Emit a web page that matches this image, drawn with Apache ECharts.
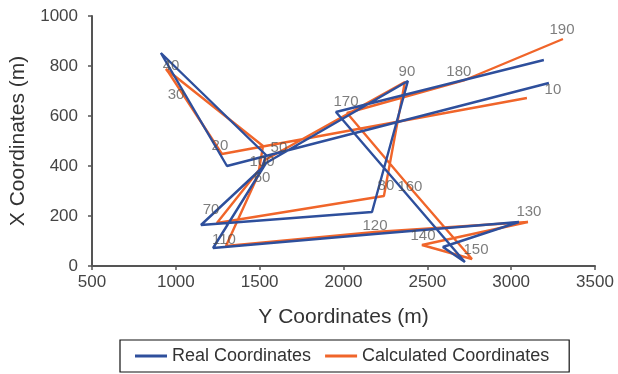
<!DOCTYPE html>
<html>
<head>
<meta charset="utf-8">
<script src="https://cdn.jsdelivr.net/npm/echarts@6/dist/echarts.min.js"></script>
<style>
  html, body { margin: 0; padding: 0; background: #fff; }
  #chart { width: 618px; height: 374px; }
</style>
</head>
<body>
<div id="chart"></div>
<script>
// Point indices (time steps) along the route
const steps = [10, 20, 30, 40, 50, 60, 70, 80, 90, 100, 110, 120, 130, 140, 150, 160, 170, 180, 190];

// Real coordinates: Y (m) and X (m) at each step
const realY = [3225, 1305, 935, 911, 1538, 1514, 1150, 2170, 2384, 1538, 1222, 2188, 3046, 2593, 2724, 2396, 1955, 2700, 3195];
const realX = [732, 400, 824, 852, 444, 392, 164, 216, 740, 412, 72, 128, 176, 76, 16, 272, 616, 741, 824];

// Calculated coordinates: Y (m) and X (m) at each step
const calcY = [3094, 1275, 959, 941, 1520, 1496, 1245, 2241, 2366, 1532, 1299, 2188, 3100, 2468, 2766, 2420, 2021, 2724, 3309];
const calcX = [672, 448, 772, 788, 480, 384, 172, 280, 736, 424, 80, 136, 176, 84, 28, 296, 612, 744, 908];

// Where each step number is written (data coordinates)
const tagY = [3249, 1263, 1001, 971, 1615, 1514, 1210, 2253, 2378, 1514, 1287, 2188, 3106, 2474, 2790, 2396, 2015, 2688, 3303];
const tagX = [704, 480, 684, 800, 472, 352, 224, 320, 776, 416, 104, 160, 216, 120, 64, 316, 656, 776, 944];

const xTicks = { min: 500, max: 3500, interval: 500 };
const yTicks = { min: 0, max: 1000, interval: 200 };

const BLUE = '#2E4F9C';
const ORANGE = '#F0652A';
const FONT = '"Liberation Sans", Arial, sans-serif';

const pairs = (a, b) => a.map((v, i) => [v, b[i]]);

const chart = echarts.init(document.getElementById('chart'), null, { renderer: 'canvas' });

chart.setOption({
  animation: false,
  backgroundColor: '#fff',
  textStyle: { fontFamily: FONT },
  grid: { left: 92, right: 23, top: 16, bottom: 108 },
  legend: {
    data: ['Real Coordinates', 'Calculated Coordinates'],
    bottom: 2,
    left: 120,
    borderColor: '#111',
    borderWidth: 1.2,
    padding: [7, 20, 7, 15],
    itemGap: 14,
    itemWidth: 32,
    itemHeight: 3,
    icon: 'rect',
    textStyle: { fontSize: 18, color: '#333', fontFamily: FONT }
  },
  xAxis: {
    type: 'value',
    min: xTicks.min, max: xTicks.max, interval: xTicks.interval,
    name: 'Y Coordinates (m)',
    nameLocation: 'middle',
    nameGap: 41,
    nameTextStyle: { fontSize: 21, color: '#333', fontFamily: FONT },
    axisLine: { lineStyle: { color: '#555', width: 2 } },
    axisTick: { show: true, inside: false, length: 4, lineStyle: { color: '#555', width: 1.5 } },
    axisLabel: { fontSize: 17, color: '#444', margin: 8, fontFamily: FONT, formatter: v => String(v) },
    splitLine: { show: false }
  },
  yAxis: {
    type: 'value',
    min: yTicks.min, max: yTicks.max, interval: yTicks.interval,
    name: 'X Coordinates (m)',
    nameLocation: 'middle',
    nameGap: 63,
    nameTextStyle: { fontSize: 21, color: '#333', fontFamily: FONT },
    axisLine: { show: true, lineStyle: { color: '#555', width: 2 } },
    axisTick: { show: true, inside: false, length: 4, lineStyle: { color: '#555', width: 1.5 } },
    axisLabel: { fontSize: 17, color: '#444', margin: 14, fontFamily: FONT, formatter: v => String(v) },
    splitLine: { show: false }
  },
  series: [
    {
      name: 'Calculated Coordinates',
      type: 'line',
      data: pairs(calcY, calcX),
      showSymbol: false,
      symbol: 'none',
      color: ORANGE,
      lineStyle: { color: ORANGE, width: 2.4 },
      z: 2
    },
    {
      name: 'Real Coordinates',
      type: 'line',
      data: pairs(realY, realX),
      showSymbol: false,
      symbol: 'none',
      color: BLUE,
      lineStyle: { color: BLUE, width: 2.4 },
      z: 3
    },
    {
      name: 'steps',
      type: 'scatter',
      symbolSize: 0,
      silent: true,
      z: 5,
      data: steps.map((s, i) => ({ value: [tagY[i], tagX[i]], name: String(s) })),
      label: {
        show: true,
        position: 'inside',
        formatter: p => p.name,
        fontSize: 15,
        color: 'rgba(75,75,75,0.9)',
        fontFamily: FONT
      }
    }
  ]
});
</script>
</body>
</html>
